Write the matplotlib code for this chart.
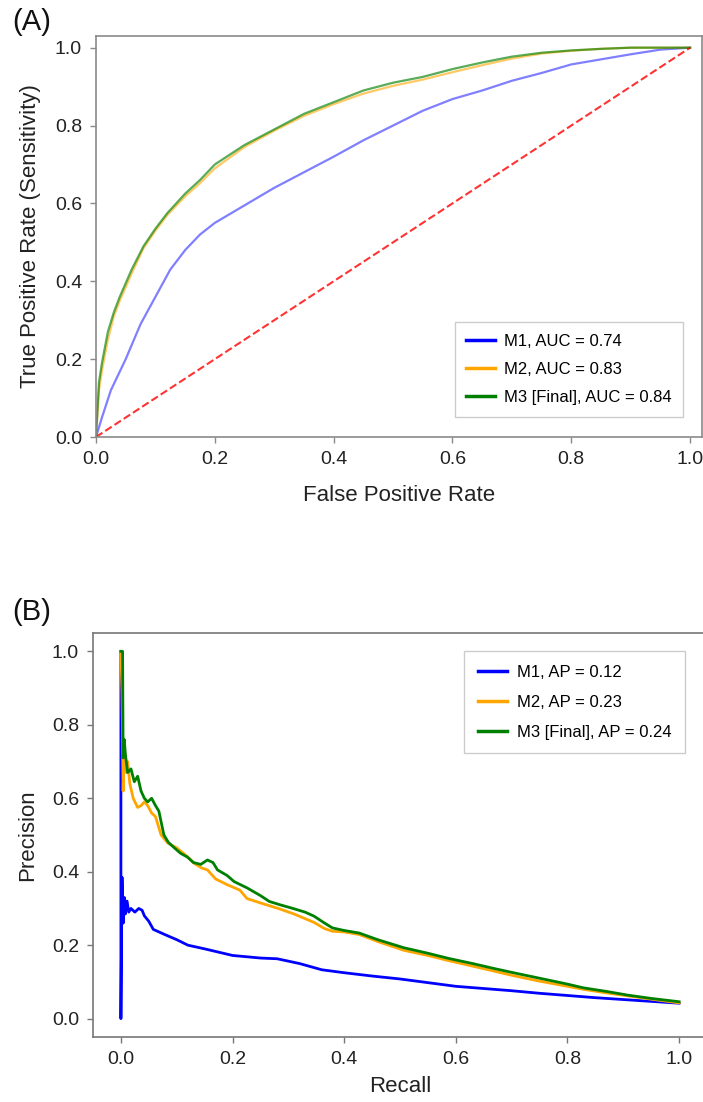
import matplotlib
matplotlib.use("Agg")
import matplotlib.pyplot as plt
from matplotlib.lines import Line2D

plt.rcParams['font.family'] = ['Liberation Sans', 'DejaVu Sans']

# ---------------- ROC data (panel A) ----------------
roc_m1_fpr = [0, 0.01, 0.025, 0.05, 0.075, 0.1, 0.125, 0.15, 0.175, 0.2, 0.25, 0.3, 0.35, 0.4,
              0.45, 0.5, 0.55, 0.6, 0.65, 0.7, 0.75, 0.8, 0.85, 0.9, 0.95, 1.0]
roc_m1_tpr = [0, 0.05, 0.12, 0.20, 0.29, 0.36, 0.43, 0.48, 0.52, 0.55, 0.595, 0.64, 0.68, 0.72,
              0.762, 0.80, 0.838, 0.868, 0.89, 0.915, 0.935, 0.957, 0.97, 0.983, 0.995, 1.0]

roc_m2_fpr = [0, 0.005, 0.01, 0.02, 0.03, 0.04, 0.06, 0.08, 0.1, 0.12, 0.15, 0.175, 0.2, 0.25,
              0.3, 0.35, 0.4, 0.45, 0.5, 0.55, 0.6, 0.65, 0.7, 0.75, 0.8, 0.85, 0.9, 1.0]
roc_m2_tpr = [0, 0.12, 0.17, 0.25, 0.31, 0.35, 0.42, 0.485, 0.53, 0.57, 0.618, 0.652, 0.69, 0.745,
              0.787, 0.825, 0.855, 0.882, 0.902, 0.918, 0.937, 0.955, 0.972, 0.985, 0.992, 0.997, 1.0, 1.0]

roc_m3_fpr = [0, 0.005, 0.01, 0.02, 0.03, 0.04, 0.06, 0.08, 0.1, 0.12, 0.15, 0.175, 0.2, 0.25,
              0.3, 0.35, 0.4, 0.45, 0.5, 0.55, 0.6, 0.65, 0.7, 0.75, 0.8, 0.85, 0.9, 1.0]
roc_m3_tpr = [0, 0.14, 0.19, 0.27, 0.32, 0.36, 0.43, 0.49, 0.535, 0.575, 0.625, 0.66, 0.70, 0.75,
              0.79, 0.83, 0.86, 0.89, 0.91, 0.925, 0.945, 0.962, 0.977, 0.987, 0.993, 0.997, 1.0, 1.0]

roc_labels = ["M1, AUC = 0.74", "M2, AUC = 0.83", "M3 [Final], AUC = 0.84"]

# ---------------- PR data (panel B) ----------------
pr_m1_rec = [0, 0, 0.002, 0.004, 0.006, 0.008, 0.011, 0.014, 0.018, 0.025, 0.032, 0.038, 0.042,
             0.05, 0.058, 0.08, 0.1, 0.12, 0.15, 0.2, 0.25, 0.28, 0.32, 0.36, 0.4, 0.45, 0.5,
             0.55, 0.6, 0.65, 0.7, 0.75, 0.8, 0.85, 0.9, 0.95, 1.0]
pr_m1_prec = [1.0, 0.0, 0.385, 0.26, 0.33, 0.285, 0.32, 0.29, 0.30, 0.29, 0.30, 0.295, 0.28,
              0.265, 0.243, 0.228, 0.215, 0.2, 0.19, 0.172, 0.165, 0.163, 0.15, 0.133, 0.125, 0.116,
              0.108, 0.098, 0.088, 0.082, 0.076, 0.069, 0.063, 0.057, 0.052, 0.047, 0.042]

pr_m2_rec = [0, 0.002, 0.004, 0.006, 0.009, 0.012, 0.016, 0.022, 0.03, 0.036, 0.042, 0.048, 0.055,
             0.062, 0.072, 0.084, 0.1, 0.12, 0.131, 0.145, 0.155, 0.17, 0.19, 0.213, 0.226, 0.25,
             0.282, 0.31, 0.346, 0.365, 0.379, 0.4, 0.427, 0.46, 0.507, 0.55, 0.587, 0.63, 0.667,
             0.7, 0.747, 0.8, 0.828, 0.87, 0.908, 0.95, 1.0]
pr_m2_prec = [1.0, 0.89, 0.62, 0.74, 0.67, 0.70, 0.64, 0.60, 0.575, 0.58, 0.59, 0.58, 0.56,
              0.55, 0.50, 0.478, 0.465, 0.44, 0.423, 0.41, 0.405, 0.38, 0.365, 0.35, 0.327, 0.315,
              0.30, 0.285, 0.262, 0.245, 0.238, 0.236, 0.229, 0.21, 0.186, 0.172, 0.158, 0.143, 0.13,
              0.118, 0.103, 0.088, 0.08, 0.07, 0.062, 0.053, 0.043]

pr_m3_rec = [0, 0.003, 0.004, 0.006, 0.008, 0.012, 0.018, 0.024, 0.03, 0.036, 0.042, 0.048, 0.055,
             0.062, 0.068, 0.077, 0.085, 0.095, 0.107, 0.119, 0.13, 0.143, 0.155, 0.165, 0.173,
             0.19, 0.203, 0.226, 0.25, 0.266, 0.285, 0.306, 0.33, 0.346, 0.365, 0.379, 0.4, 0.427,
             0.46, 0.507, 0.55, 0.587, 0.63, 0.667, 0.7, 0.747, 0.8, 0.828, 0.87, 0.908, 0.95, 1.0]
pr_m3_prec = [1.0, 1.0, 0.71, 0.76, 0.72, 0.67, 0.68, 0.645, 0.66, 0.62, 0.60, 0.59, 0.60,
              0.58, 0.565, 0.50, 0.48, 0.466, 0.45, 0.44, 0.425, 0.42, 0.432, 0.425, 0.405,
              0.39, 0.373, 0.356, 0.335, 0.319, 0.31, 0.301, 0.29, 0.279, 0.26, 0.247, 0.24, 0.233,
              0.215, 0.193, 0.178, 0.164, 0.15, 0.137, 0.126, 0.111, 0.094, 0.084, 0.074, 0.064, 0.055, 0.046]

pr_labels = ["M1, AP = 0.12", "M2, AP = 0.23", "M3 [Final], AP = 0.24"]

ticks = [0.0, 0.2, 0.4, 0.6, 0.8, 1.0]
tick_labels = ["0.0", "0.2", "0.4", "0.6", "0.8", "1.0"]
colors = ["blue", "orange", "green"]

W, H = 703, 1102
fig = plt.figure(figsize=(W / 100, H / 100), dpi=100)

def style_axes(ax, spine_color):
    for s in ax.spines.values():
        s.set_color(spine_color)
        s.set_linewidth(1.2)
    ax.tick_params(axis='both', colors=spine_color, length=4, width=1, pad=6,
                   labelsize=14, labelcolor='#222222')
    ax.set_xticks(ticks)
    ax.set_xticklabels(tick_labels)
    ax.set_yticks(ticks)
    ax.set_yticklabels(tick_labels)

# ---------------- Panel A ----------------
axA = fig.add_axes([96 / W, 1 - 437 / H, (702 - 96) / W, (437 - 36) / H])
axA.plot(roc_m1_fpr, roc_m1_tpr, color='blue', alpha=0.5, lw=1.6)
axA.plot(roc_m2_fpr, roc_m2_tpr, color='orange', alpha=0.6, lw=1.6)
axA.plot(roc_m3_fpr, roc_m3_tpr, color='green', alpha=0.65, lw=1.6)
axA.plot([0, 1], [0, 1], color='red', ls='--', lw=1.5, alpha=0.8)
axA.set_xlim(0, 1.02)
axA.set_ylim(0, 1.03)
style_axes(axA, '#8a8a8a')
axA.set_xlabel("False Positive Rate", fontsize=16, labelpad=12, color='#222222')
axA.set_ylabel("True Positive Rate (Sensitivity)", fontsize=16, labelpad=10, color='#222222')
handlesA = [Line2D([], [], color=c, lw=2.5) for c in colors]
axA.legend(handlesA, roc_labels, loc='lower right', bbox_to_anchor=(0.9686, 0.05),
           borderaxespad=0, fontsize=12, frameon=True, fancybox=False, edgecolor='#cccccc',
           framealpha=1, handlelength=1.75, handletextpad=0.5, borderpad=0.7, labelspacing=0.8)
fig.text(12 / W, 1 - 22 / H, "(A)", fontsize=21, va='center', ha='left', color='#111111')

# ---------------- Panel B ----------------
axB = fig.add_axes([93 / W, 1 - 1037 / H, (707 - 93) / W, (1037 - 633) / H])
axB.plot(pr_m1_rec, pr_m1_prec, color='blue', lw=2)
axB.plot(pr_m2_rec, pr_m2_prec, color='orange', lw=2)
axB.plot(pr_m3_rec, pr_m3_prec, color='green', lw=2)
axB.set_xlim(-0.05, 1.05)
axB.set_ylim(-0.05, 1.05)
style_axes(axB, '#777777')
axB.set_xlabel("Recall", fontsize=16, labelpad=6, color='#222222')
axB.set_ylabel("Precision", fontsize=16, labelpad=10, color='#222222')
handlesB = [Line2D([], [], color=c, lw=2.5) for c in colors]
axB.legend(handlesB, pr_labels, loc='upper right', bbox_to_anchor=(0.964, 0.955),
           borderaxespad=0, fontsize=12, frameon=True, fancybox=False, edgecolor='#cccccc',
           framealpha=1, handlelength=1.75, handletextpad=0.6, borderpad=0.8, labelspacing=0.9)
fig.text(12 / W, 1 - 612 / H, "(B)", fontsize=21, va='center', ha='left', color='#111111')

fig.savefig("out.png", dpi=100)
